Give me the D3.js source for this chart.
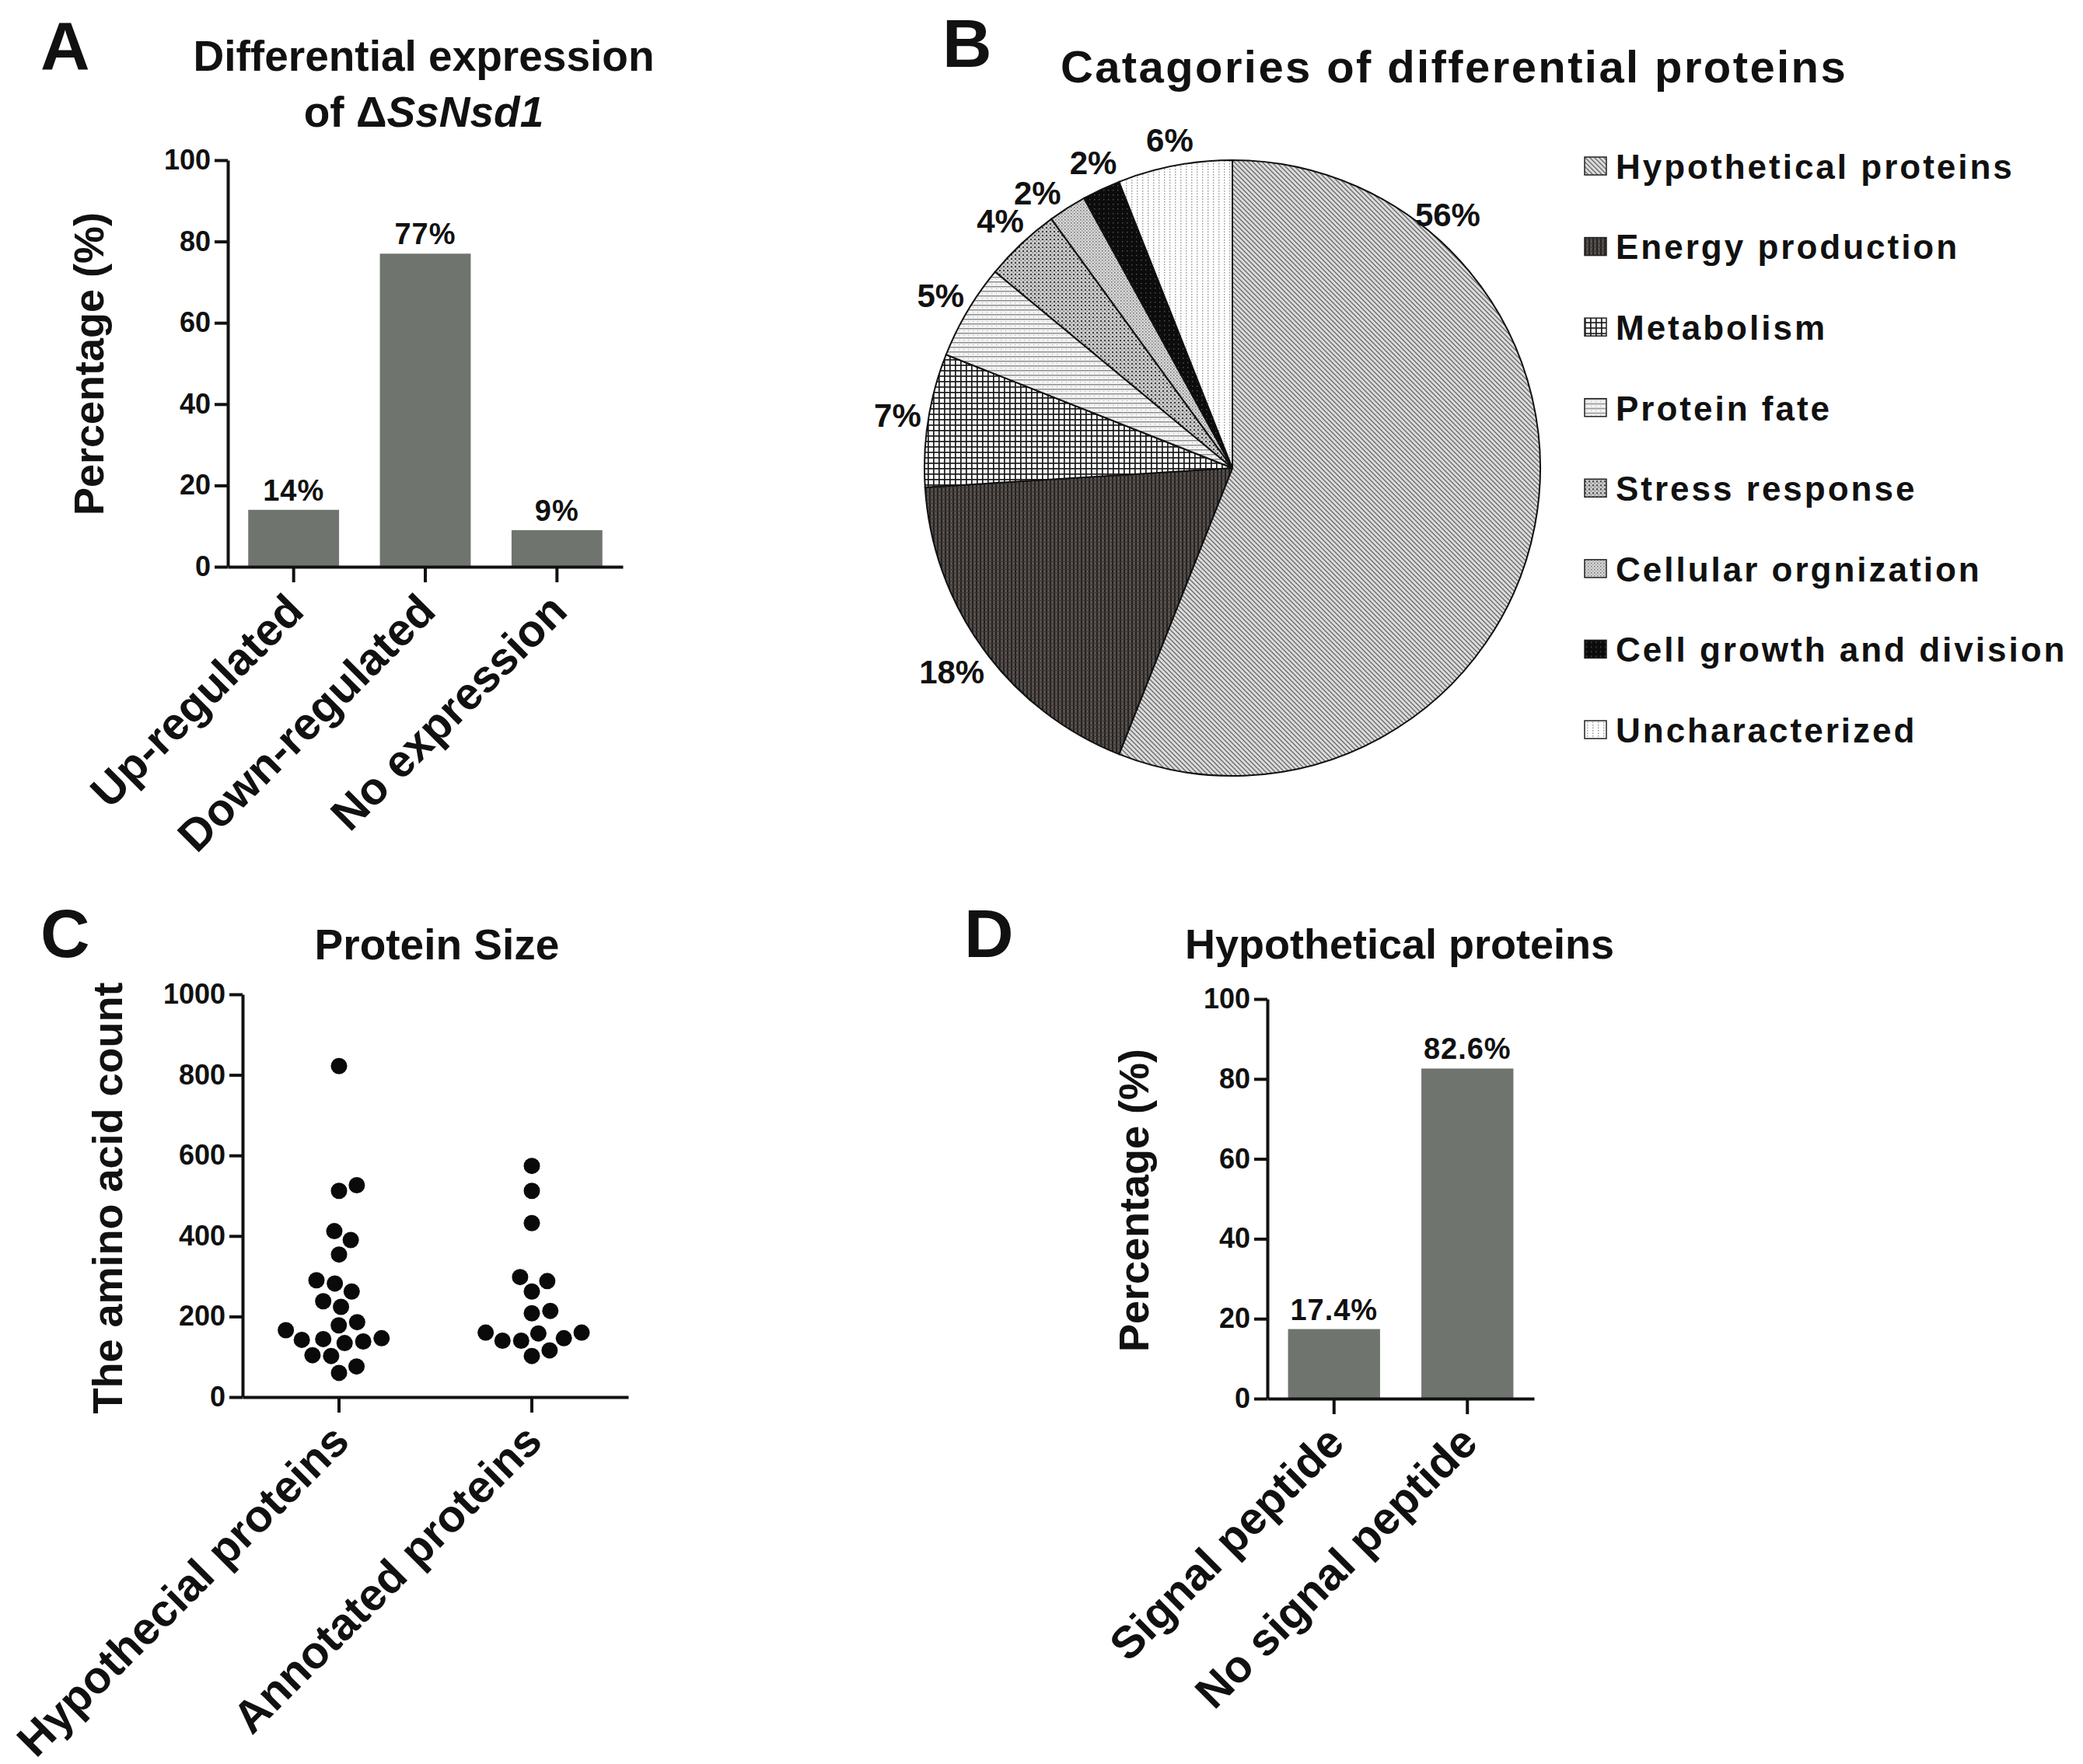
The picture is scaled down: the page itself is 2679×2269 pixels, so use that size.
<!DOCTYPE html>
<html>
<head>
<meta charset="utf-8">
<script src="https://cdn.jsdelivr.net/npm/d3@7"></script>
<style>
body { margin: 0; background: #ffffff; }
svg { display: block; }
text { font-family: "Liberation Sans", Arial, sans-serif; font-weight: bold; fill: #111; }
</style>
</head>
<body>
<svg id="fig" width="2679" height="2269"></svg>
<script>
// ---- data ----
var exprCats = ["Up-regulated", "Down-regulated", "No expression"];
var exprVals = [14, 77, 9];
var exprLabels = ["14%", "77%", "9%"];
var pctTicks = [0, 20, 40, 60, 80, 100];

var pieCats = ["Hypothetical proteins", "Energy production", "Metabolism", "Protein fate",
               "Stress response", "Cellular orgnization", "Cell growth and division", "Uncharacterized"];
var pieVals = [56, 18, 7, 5, 4, 2, 2, 6];
var pieLabels = ["56%", "18%", "7%", "5%", "4%", "2%", "2%", "6%"];

var sizeCats = ["Hypothecial proteins", "Annotated proteins"];
var hypoSizes = [822, 526, 512, 412, 390, 354, 290, 282, 262, 238, 224, 186, 178, 166,
                 144, 138, 134, 142, 146, 102, 104, 76, 60];
var annoSizes = [574, 512, 432, 298, 288, 262, 208, 214, 146, 140, 160, 160, 140, 158, 102, 116];
var sizeTicks = [0, 200, 400, 600, 800, 1000];

var sigCats = ["Signal peptide", "No signal peptide"];
var sigVals = [17.4, 82.6];
var sigLabels = ["17.4%", "82.6%"];

var svg = d3.select("#fig");
var barColor = "#6f756e";

// ---- patterns for the pie ----
var defs = svg.append("defs");
function pattern(id, size, bg, draw) {
    var p = defs.append("pattern").attr("id", id)
        .attr("patternUnits", "userSpaceOnUse")
        .attr("width", size).attr("height", size);
    p.append("rect").attr("width", size).attr("height", size).attr("fill", bg);
    draw(p, size);
}
pattern("p0", 6, "#dcdcdc", function(p, s) {
    p.append("path").attr("d", "M0,0L6,6M-3,3L3,9M3,-3L9,3").attr("stroke", "#6e6e6e").attr("stroke-width", 1.4);
});
pattern("p1", 5, "#57514e", function(p, s) {
    p.append("rect").attr("x", 0).attr("width", 2).attr("height", 5).attr("fill", "#231f1e");
    p.append("rect").attr("y", 0).attr("width", 5).attr("height", 1).attr("fill", "#3a3533");
});
pattern("p2", 7, "#ffffff", function(p, s) {
    p.append("rect").attr("width", 7).attr("height", 1.7).attr("fill", "#1a1a1a");
    p.append("rect").attr("width", 1.7).attr("height", 7).attr("fill", "#1a1a1a");
});
pattern("p3", 6, "#f4f4f4", function(p, s) {
    p.append("rect").attr("width", 6).attr("height", 1.4).attr("fill", "#8a8a8a");
    p.append("rect").attr("x", 2).attr("y", 3).attr("width", 1.2).attr("height", 1.2).attr("fill", "#bbbbbb");
});
pattern("p4", 5, "#c8c8c8", function(p, s) {
    p.append("rect").attr("width", 2).attr("height", 2).attr("fill", "#3d3d3d");
    p.append("rect").attr("x", 2.5).attr("y", 2.5).attr("width", 1.5).attr("height", 1.5).attr("fill", "#7a7a7a");
});
pattern("p5", 4, "#d8d8d8", function(p, s) {
    p.append("rect").attr("width", 1.5).attr("height", 1.5).attr("fill", "#6a6a6a");
    p.append("rect").attr("x", 2).attr("y", 2).attr("width", 1.5).attr("height", 1.5).attr("fill", "#9a9a9a");
});
pattern("p6", 6, "#0c0c0c", function(p, s) {
    p.append("rect").attr("x", 2).attr("y", 2).attr("width", 1.4).attr("height", 1.4).attr("fill", "#555");
});
pattern("p7", 7, "#ffffff", function(p, s) {
    p.append("rect").attr("x", 3).attr("width", 1.4).attr("height", 1.6).attr("fill", "#9a9a9a");
    p.append("rect").attr("x", 3).attr("y", 3.5).attr("width", 1.4).attr("height", 1.6).attr("fill", "#9a9a9a");
});

// ---- shared helpers ----
function styleAxis(g) {
    g.selectAll("path, line").attr("stroke", "#111").attr("stroke-width", 4);
    g.selectAll("text").style("font-size", "36px").style("font-weight", "bold")
        .attr("fill", "#111");
}

function leftAxis(y, ticks, x0) {
    var g = svg.append("g").attr("transform", "translate(" + x0 + ",0)")
        .call(d3.axisLeft(y).tickValues(ticks).tickFormat(d3.format("d"))
            .tickSize(17).tickSizeOuter(0).tickPadding(5));
    styleAxis(g);
    return g;
}

function bottomAxis(x, y0, dx, dy) {
    var g = svg.append("g").attr("transform", "translate(0," + y0 + ")")
        .call(d3.axisBottom(x).tickSize(20).tickSizeOuter(0));
    styleAxis(g);
    g.selectAll("text")
        .attr("y", 0).attr("dy", 0)
        .attr("text-anchor", "end")
        .style("font-size", "58px")
        .attr("transform", "translate(" + dx + "," + dy + ") rotate(-45)");
    return g;
}

function yTitle(txt, x, y) {
    svg.append("text").attr("transform", "translate(" + x + "," + y + ") rotate(-90)")
        .attr("text-anchor", "middle").style("font-size", "54px").text(txt);
}

function barPanel(cats, vals, labels, box) {
    var x = d3.scaleBand().domain(cats).range([box.x0, box.x1]).paddingInner(0.31).paddingOuter(0.155);
    var y = d3.scaleLinear().domain([0, 100]).range([box.y0, box.y1]);
    svg.append("g").selectAll("rect").data(vals).enter().append("rect")
        .attr("x", function(d, i) { return x(cats[i]); })
        .attr("width", x.bandwidth())
        .attr("y", function(d) { return y(d); })
        .attr("height", function(d) { return y(0) - y(d); })
        .attr("fill", barColor);
    svg.append("g").selectAll("text").data(vals).enter().append("text")
        .attr("x", function(d, i) { return x(cats[i]) + x.bandwidth() / 2; })
        .attr("y", function(d) { return y(d) - 12; })
        .attr("text-anchor", "middle")
        .style("font-size", "38px").style("letter-spacing", "1px")
        .text(function(d, i) { return labels[i]; });
    leftAxis(y, pctTicks, box.x0);
    bottomAxis(x, box.y0, 16, 60);
}

function panelLetter(l, x, y) {
    svg.append("text").attr("x", x).attr("y", y).style("font-size", "88px").text(l);
}

// ---- A ----
panelLetter("A", 52, 89);
svg.append("text").attr("x", 545).attr("y", 91).attr("text-anchor", "middle")
    .style("font-size", "55px").text("Differential expression");
var t2 = svg.append("text").attr("x", 545).attr("y", 163).attr("text-anchor", "middle")
    .style("font-size", "55px");
t2.append("tspan").text("of \u0394");
t2.append("tspan").style("font-style", "italic").text("SsNsd1");
barPanel(exprCats, exprVals, exprLabels, {x0: 293, x1: 801, y0: 729, y1: 206});
yTitle("Percentage (%)", 133, 468);

// ---- B ----
panelLetter("B", 1212, 86);
svg.append("text").attr("x", 1870).attr("y", 106).attr("text-anchor", "middle")
    .style("font-size", "58px").style("letter-spacing", "2.4px")
    .text("Catagories of differential proteins");

var pieCx = 1585, pieCy = 602, pieR = 396;
var arcs = d3.pie().sort(null).value(function(d) { return d; })(pieVals);
var arc = d3.arc().innerRadius(0).outerRadius(pieR);
var pieG = svg.append("g").attr("transform", "translate(" + pieCx + "," + pieCy + ")");
pieG.selectAll("path").data(arcs).enter().append("path")
    .attr("d", arc)
    .attr("fill", function(d, i) { return "url(#p" + i + ")"; })
    .attr("stroke", "#111").attr("stroke-width", 2);
// label sits at the slice middle, except the big slice which is labelled near its start
var labelFrac = [0.2, 0.5, 0.5, 0.5, 0.5, 0.1, 0.6, 0.5];
var labelGap = [32, 50, 40, 40, 40, 38, 36, 34];
pieG.selectAll("text").data(arcs).enter().append("text")
    .attr("x", function(d, i) {
        var a = d.startAngle + (d.endAngle - d.startAngle) * labelFrac[i];
        return (pieR + labelGap[i]) * Math.sin(a);
    })
    .attr("y", function(d, i) {
        var a = d.startAngle + (d.endAngle - d.startAngle) * labelFrac[i];
        return -(pieR + labelGap[i]) * Math.cos(a);
    })
    .attr("dy", "0.36em").attr("text-anchor", "middle")
    .style("font-size", "42px")
    .text(function(d, i) { return pieLabels[i]; });

var legY = d3.scalePoint().domain(pieCats).range([214, 939]);
var leg = svg.append("g").selectAll("g").data(pieCats).enter().append("g")
    .attr("transform", function(d) { return "translate(2038," + legY(d) + ")"; });
leg.append("rect").attr("x", 0).attr("y", -12).attr("width", 28).attr("height", 23)
    .attr("fill", function(d, i) { return "url(#p" + i + ")"; })
    .attr("stroke", "#222").attr("stroke-width", 1.5);
leg.append("text").attr("x", 40).attr("dy", "0.36em")
    .style("font-size", "44px").style("letter-spacing", "3px")
    .text(function(d) { return d; });

// ---- C ----
panelLetter("C", 52, 1231);
svg.append("text").attr("x", 562).attr("y", 1234).attr("text-anchor", "middle")
    .style("font-size", "55px").text("Protein Size");

var cx = d3.scaleBand().domain(sizeCats).range([312, 808]);
var cy = d3.scaleLinear().domain([0, 1000]).range([1797, 1279]);
var dotR = 10.5;

// simple beeswarm: place each point as near to the column centre as it fits
function swarm(vals, y, r) {
    var placed = [];
    var order = vals.map(function(v, i) { return i; })
        .sort(function(a, b) { return vals[a] - vals[b]; });
    var out = new Array(vals.length);
    var gap = 2 * r + 3;
    order.forEach(function(i) {
        var yy = y(vals[i]);
        var cands = [0];
        placed.forEach(function(p) {
            var dy = Math.abs(p.y - yy);
            if (dy < gap) {
                var dx = Math.sqrt(gap * gap - dy * dy);
                cands.push(p.x + dx, p.x - dx);
            }
        });
        cands.sort(function(a, b) { return Math.abs(a) - Math.abs(b); });
        var best = cands.find(function(c) {
            return placed.every(function(p) {
                return Math.hypot(p.x - c, p.y - yy) >= gap - 0.01;
            });
        });
        var pt = {x: best, y: yy};
        placed.push(pt);
        out[i] = pt;
    });
    return out;
}

[hypoSizes, annoSizes].forEach(function(vals, k) {
    var centre = cx(sizeCats[k]) + cx.bandwidth() / 2;
    var pts = swarm(vals, cy, dotR);
    svg.append("g").selectAll("circle").data(pts).enter().append("circle")
        .attr("cx", function(d) { return centre + d.x; })
        .attr("cy", function(d) { return d.y; })
        .attr("r", dotR).attr("fill", "#0a0a0a");
});
leftAxis(cy, sizeTicks, 312);
bottomAxis(cx, 1797, 16, 60);
yTitle("The amino acid count", 157, 1541);

// ---- D ----
panelLetter("D", 1240, 1231);
svg.append("text").attr("x", 1800).attr("y", 1233).attr("text-anchor", "middle")
    .style("font-size", "54px").text("Hypothetical proteins");
barPanel(sigCats, sigVals, sigLabels, {x0: 1630, x1: 1973, y0: 1799, y1: 1285});
yTitle("Percentage (%)", 1477, 1544);
</script>
</body>
</html>
